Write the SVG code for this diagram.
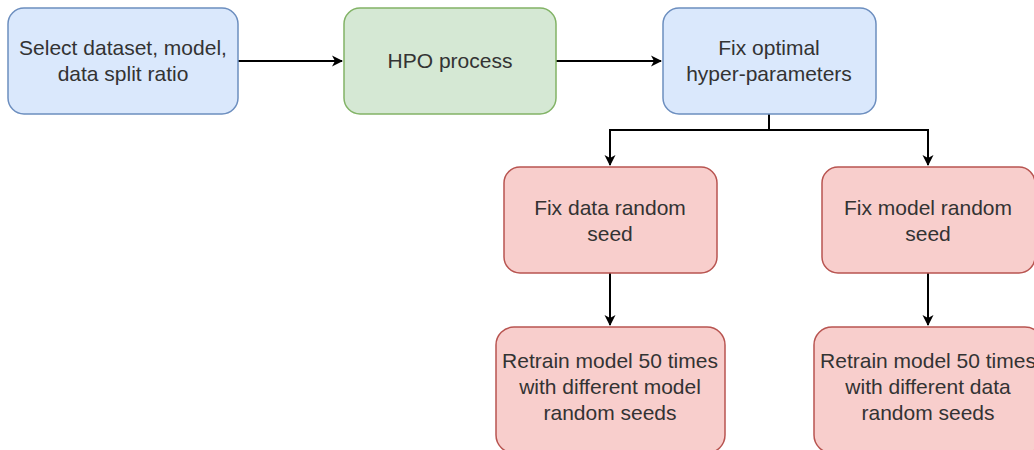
<svg xmlns="http://www.w3.org/2000/svg" width="1034" height="450" viewBox="0 0 1034 450">
<style>
.box{stroke-width:1.5}
.blue{fill:#dae8fc;stroke:#6c8ebf}
.green{fill:#d5e8d4;stroke:#82b366}
.red{fill:#f8cecc;stroke:#b85450}
text{font-family:"Liberation Sans",Arial,sans-serif;font-size:21px;fill:#333333;text-anchor:middle}
.edge{fill:none;stroke:#000;stroke-width:2}
</style>
<defs>
<marker id="arr" markerWidth="12" markerHeight="12" refX="10" refY="6" orient="auto" markerUnits="userSpaceOnUse">
<path d="M0,0.5 L11,6 L0,11.5 L3,6 Z" fill="#000"/>
</marker>
</defs>
<rect width="1034" height="450" fill="#fff"/>
<g id="connectors">
<path class="edge" d="M238,61 H342" marker-end="url(#arr)"/>
<path class="edge" d="M556,61 H661" marker-end="url(#arr)"/>
<path class="edge" d="M769,114 V130 H610 V165" marker-end="url(#arr)"/>
<path class="edge" d="M769,130 H928 V165" marker-end="url(#arr)"/>
<path class="edge" d="M610,273 V325" marker-end="url(#arr)"/>
<path class="edge" d="M928,273 V325" marker-end="url(#arr)"/>
</g>
<g id="n1"><rect class="box blue" x="8" y="8" width="230" height="106" rx="16"/>
<text x="123" y="54.5">Select dataset, model,</text><text x="123" y="80.5">data split ratio</text></g>
<g id="n2"><rect class="box green" x="344" y="8" width="212" height="106" rx="16"/>
<text x="450" y="68">HPO process</text></g>
<g id="n3"><rect class="box blue" x="663" y="8" width="213" height="106" rx="16"/>
<text x="769" y="54.5">Fix optimal</text><text x="769" y="80.5">hyper-parameters</text></g>
<g id="n4"><rect class="box red" x="504" y="167" width="213" height="106" rx="16"/>
<text x="610" y="214.5">Fix data random</text><text x="610" y="240.5">seed</text></g>
<g id="n5"><rect class="box red" x="822" y="167" width="213" height="106" rx="16"/>
<text x="928" y="214.5">Fix model random</text><text x="928" y="240.5">seed</text></g>
<g id="n6"><rect class="box red" x="496" y="327" width="229" height="126" rx="18"/>
<text x="610" y="367.5">Retrain model 50 times</text><text x="610" y="393.5">with different model</text><text x="610" y="419.5">random seeds</text></g>
<g id="n7"><rect class="box red" x="814" y="327" width="229" height="126" rx="18"/>
<text x="928" y="367.5">Retrain model 50 times</text><text x="928" y="393.5">with different data</text><text x="928" y="419.5">random seeds</text></g>
</svg>
